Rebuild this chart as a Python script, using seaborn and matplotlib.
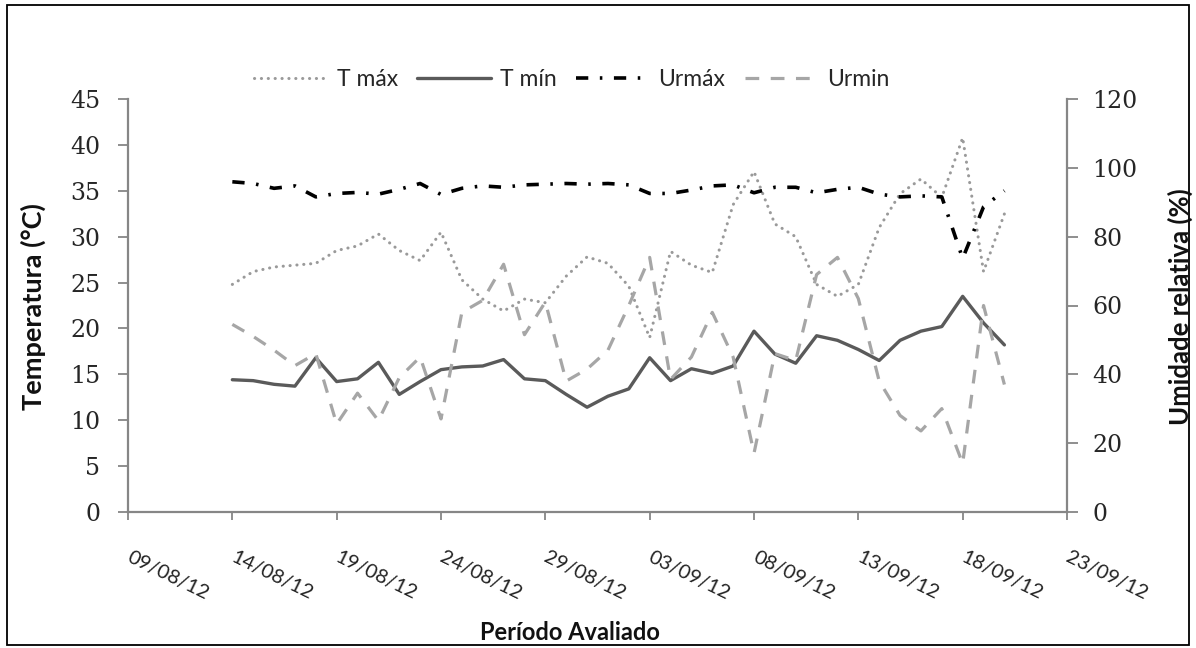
import matplotlib
matplotlib.use("Agg")
import matplotlib.pyplot as plt
import matplotlib.dates as mdates
from matplotlib.patches import Rectangle
import seaborn as sns
import pandas as pd
import numpy as np

# ---------------- data ----------------
start_date = "2012-08-14"
n_days = 38
tmax = [24.8, 26.2, 26.7, 26.9, 27.1, 28.5, 29.0, 30.3, 28.5, 27.4,
        30.5, 25.3, 23.2, 21.9, 23.2, 22.8, 25.7, 27.8, 27.1, 24.6,
        19.0, 28.4, 26.9, 26.1, 33.5, 37.1, 31.4, 30.0, 24.8, 23.5,
        24.8, 31.0, 34.7, 36.3, 34.3, 40.8, 26.2, 32.5]
tmin = [14.4, 14.3, 13.9, 13.7, 16.8, 14.2, 14.5, 16.3, 12.8, 14.2,
        15.5, 15.8, 15.9, 16.6, 14.5, 14.3, 12.8, 11.4, 12.6, 13.4,
        16.8, 14.3, 15.6, 15.1, 15.9, 19.7, 17.2, 16.2, 19.2, 18.7,
        17.7, 16.5, 18.7, 19.7, 20.2, 23.5, 20.6, 18.2]
urmax = [96.0, 95.5, 94.1, 94.8, 91.6, 92.6, 92.9, 92.4, 93.8, 95.5,
         92.3, 94.1, 94.8, 94.4, 95.1, 95.3, 95.5, 95.3, 95.5, 95.1,
         92.6, 92.6, 93.6, 94.8, 95.1, 92.8, 94.4, 94.4, 92.8, 93.8,
         94.4, 92.4, 91.6, 91.9, 91.6, 73.7, 88.7, 93.4]
urmin = [54.5, 51.0, 47.0, 42.5, 46.0, 25.5, 34.5, 26.5, 39.0, 45.0,
         27.0, 58.0, 61.5, 72.0, 51.5, 61.0, 38.0, 41.5, 47.0, 60.0,
         74.0, 38.5, 45.0, 58.0, 45.0, 17.0, 46.0, 44.0, 69.0, 74.0,
         62.0, 38.0, 28.0, 23.5, 30.0, 14.0, 60.0, 37.0]
labels = ["T máx", "T mín", "Urmáx", "Urmin"]
x_start, x_end = "2012-08-09", "2012-09-23"
temp_ticks = list(range(0, 50, 5))
hum_ticks = list(range(0, 140, 20))

dates = pd.date_range(start_date, periods=n_days, freq="D")
df = pd.DataFrame({"date": dates, "tmax": tmax, "tmin": tmin,
                   "urmax": urmax, "urmin": urmin})

# ---------------- style ----------------
sns.set_style("white")
plt.rcParams["font.family"] = ["Lato", "DejaVu Sans"]

W, H = 1196, 648
fig = plt.figure(figsize=(W / 100, H / 100), dpi=100)
fig.patch.set_facecolor("white")
L, R, T, B = 128, 1067, 99.3, 511.7
ax = fig.add_axes([L / W, 1 - B / H, (R - L) / W, (B - T) / H])
ax2 = ax.twinx()

spine_c = "#868686"

# temperature lines
sns.lineplot(data=df, x="date", y="tmax", ax=ax, color="#9a9a9a", lw=2.2,
             linestyle=(0, (0.05, 2.2)), label=labels[0], legend=False)
ax.lines[-1].set_dash_capstyle("round")
sns.lineplot(data=df, x="date", y="tmin", ax=ax, color="#5a5a5a", lw=2.4,
             linestyle="-", label=labels[1], legend=False)
# humidity lines
sns.lineplot(data=df, x="date", y="urmax", ax=ax2, color="black", lw=2.6,
             linestyle=(0, (3.4, 3.2, 0.7, 3.2)), label=labels[2], legend=False)
sns.lineplot(data=df, x="date", y="urmin", ax=ax2, color="#a6a6a6", lw=2.3,
             linestyle=(0, (4.3, 3.6)), label=labels[3], legend=False)

# axes limits & ticks
ax.set_xlim(pd.Timestamp(x_start), pd.Timestamp(x_end))
ax.set_ylim(0, 45)
ax2.set_ylim(0, 120)
ax.set_yticks(temp_ticks)
ax2.set_yticks(hum_ticks)
ticks = pd.date_range(x_start, x_end, freq="5D")
ax.set_xticks(ticks)
ax.xaxis.set_major_formatter(mdates.DateFormatter("%d/%m/%y"))

for a in (ax, ax2):
    a.set_xlabel("")
    a.set_ylabel("")
    a.spines["top"].set_visible(False)
    for s in a.spines.values():
        s.set_color(spine_c)
        s.set_linewidth(1.6)
ax2.spines["bottom"].set_visible(False)
ax2.spines["left"].set_visible(False)
ax.spines["right"].set_visible(False)

ax.tick_params(axis="y", which="major", left=True, length=7, width=1.3,
               color=spine_c, pad=13, labelsize=17, direction="out")
ax2.tick_params(axis="y", which="major", right=True, length=8, width=1.3,
                color=spine_c, pad=10, labelsize=17, direction="out")
ax.tick_params(axis="x", which="major", bottom=True, length=6, width=1.3,
               color=spine_c, pad=26, labelsize=14.5, direction="out")
for lab in ax.get_yticklabels() + ax2.get_yticklabels():
    lab.set_fontfamily(["DejaVu Serif"])
for lab in ax.get_xticklabels():
    lab.set_rotation(-26)
    lab.set_ha("left")
    lab.set_va("center")
    lab.set_rotation_mode("anchor")
    lab.set_color("#222222")

ax.grid(False)
ax2.grid(False)

# axis titles
fig.text(33 / W, 1 - 307 / H, "Temperatura (°C)", rotation=90, ha="center",
         va="center", fontsize=19.5, fontweight="bold", color="#111111")
fig.text(1180 / W, 1 - 307 / H, "Umidade relativa (%)", rotation=90,
         ha="center", va="center", fontsize=18.5, fontweight="bold",
         color="#111111")
fig.text(570 / W, 1 - 632 / H, "Período Avaliado", ha="center", va="center",
         fontsize=17, fontweight="bold", color="#111111")

# legend
h1, l1 = ax.get_legend_handles_labels()
h2, l2 = ax2.get_legend_handles_labels()
leg = fig.legend(h1 + h2, l1 + l2, loc="center", ncol=4, frameon=False,
                 bbox_to_anchor=(572 / W, 1 - 80 / H), fontsize=16.5,
                 handlelength=3.2, handletextpad=0.4, columnspacing=0.85)

# chart border
fig.patches.append(Rectangle((7 / W, 3 / H), (1189 - 7) / W, (643 - 3) / H,
                             transform=fig.transFigure, fill=False,
                             edgecolor="black", lw=1.3))

fig.savefig("out.png", dpi=100, facecolor="white")
